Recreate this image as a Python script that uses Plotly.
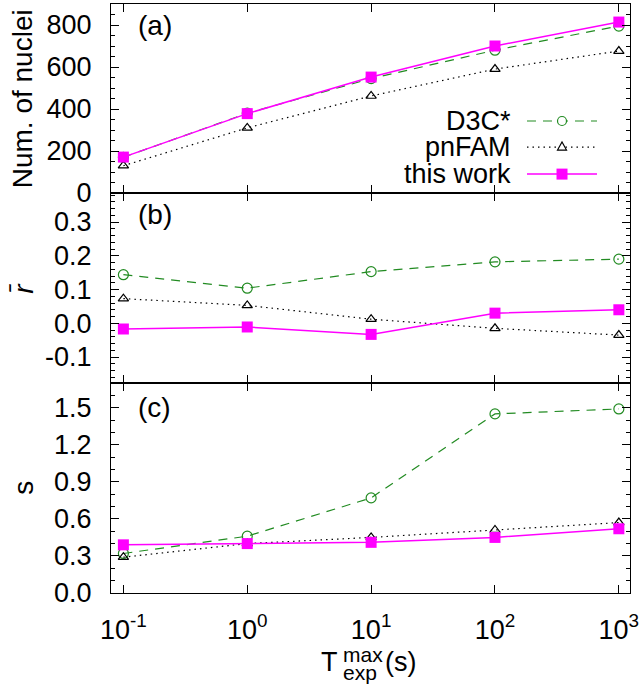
import plotly.graph_objects as go
from plotly.subplots import make_subplots

# ---- data ----
T_exp = [0.1, 1, 10, 100, 1000]
x_tickvals = [0.1, 1, 10, 100, 1000]
x_ticktext = ["10<sup>-1</sup>", "10<sup>0</sup>", "10<sup>1</sup>", "10<sup>2</sup>", "10<sup>3</sup>"]

series_names = ["D3C*", "pnFAM", "this work"]

num_d3c = [170, 380, 545, 680, 795]
num_pnfam = [130, 310, 462, 590, 676]
num_this = [171, 378, 552, 700, 814]

r_d3c = [0.144, 0.104, 0.153, 0.182, 0.190]
r_pnfam = [0.073, 0.053, 0.012, -0.015, -0.035]
r_this = [-0.017, -0.011, -0.033, 0.030, 0.040]

s_d3c = [0.32, 0.46, 0.77, 1.45, 1.49]
s_pnfam = [0.29, 0.40, 0.45, 0.51, 0.57]
s_this = [0.39, 0.40, 0.41, 0.45, 0.52]

ya_ticks = [0, 200, 400, 600, 800]
ya_text = ["0", "200", "400", "600", "800"]
yb_ticks = [-0.1, 0.0, 0.1, 0.2, 0.3]
yb_text = ["-0.1", "0.0", "0.1", "0.2", "0.3"]
yc_ticks = [0.0, 0.3, 0.6, 0.9, 1.2, 1.5]
yc_text = ["0.0", "0.3", "0.6", "0.9", "1.2", "1.5"]

# ---- styles ----
FONT = "Liberation Sans, Arial, sans-serif"
GREEN = "#228b22"
BLACK = "#000000"
MAG = "#ff00ff"
styles = {
    "D3C*": dict(line=dict(color=GREEN, width=1.2, dash="9px,7px"),
                 marker=dict(symbol="circle-open", size=10, color=GREEN, line=dict(width=1.2))),
    "pnFAM": dict(line=dict(color=BLACK, width=1.2, dash="1.5px,4px"),
                  marker=dict(symbol="triangle-up-open", size=9, color=BLACK, line=dict(width=1.2))),
    "this work": dict(line=dict(color=MAG, width=1.5),
                      marker=dict(symbol="square", size=11, color=MAG)),
}

fig = make_subplots(rows=3, cols=1, shared_xaxes=True, vertical_spacing=0,
                    row_heights=[189, 190, 210])

panels = [
    (1, [num_d3c, num_pnfam, num_this]),
    (2, [r_d3c, r_pnfam, r_this]),
    (3, [s_d3c, s_pnfam, s_this]),
]
for row, vals in panels:
    for name, v in zip(series_names, vals):
        st = styles[name]
        fig.add_trace(go.Scatter(x=T_exp, y=v, mode="lines+markers", name=name,
                                 line=st["line"], marker=st["marker"],
                                 showlegend=False, cliponaxis=False), row=row, col=1)

axis_common = dict(showline=True, linecolor="black", linewidth=1.3, mirror="allticks",
                   ticks="inside", ticklen=8, tickwidth=1.2, tickcolor="black",
                   showgrid=False, zeroline=False, automargin=False,
                   tickfont=dict(family=FONT, size=27, color="black"))

for row in (1, 2, 3):
    fig.update_xaxes(type="log", range=[-1.1, 3.09], tickmode="array",
                     tickvals=x_tickvals, ticktext=x_ticktext, ticklabelstandoff=12,
                     showticklabels=(row == 3), row=row, col=1, **axis_common)

minor_common = dict(ticks="inside", ticklen=4, tickwidth=1.2, tickcolor="black")
fig.update_yaxes(range=[0, 900], tickmode="array", tickvals=ya_ticks, ticktext=ya_text,
                 minor=dict(dtick=50, tick0=0, **minor_common), ticklabelstandoff=13,
                 row=1, col=1, **axis_common)
fig.update_yaxes(range=[-0.177, 0.386], tickmode="array", tickvals=yb_ticks, ticktext=yb_text,
                 minor=dict(dtick=0.02, tick0=0, **minor_common), ticklabelstandoff=13,
                 row=2, col=1, **axis_common)
fig.update_yaxes(range=[0, 1.7], tickmode="array", tickvals=yc_ticks, ticktext=yc_text,
                 minor=dict(dtick=0.1, tick0=0, **minor_common), ticklabelstandoff=13,
                 row=3, col=1, **axis_common)

fig.update_layout(width=640, height=689,
                  margin=dict(l=111, r=10, t=4, b=96, autoexpand=False),
                  plot_bgcolor="white", paper_bgcolor="white",
                  font=dict(family=FONT, size=27, color="black"), showlegend=False)

# panel labels
for lab, yd in (("(a)", "y domain"), ("(b)", "y2 domain"), ("(c)", "y3 domain")):
    fig.add_annotation(text=lab, xref="x domain", yref=yd, x=0.048, y=0.885,
                       xanchor="left", yanchor="middle", showarrow=False,
                       font=dict(family=FONT, size=28, color="black"))

# y-axis titles
ytitles = [("Num. of nuclei", "y domain", 28), ("<i>r̄</i>", "y2 domain", 28), ("s", "y3 domain", 28)]
for txt, yd, fs in ytitles:
    fig.add_annotation(text=txt, xref="paper", yref=yd, x=-0.17, y=0.5,
                       xanchor="center", yanchor="middle", textangle=-90, showarrow=False,
                       font=dict(family=FONT, size=fs, color="black"))

# x-axis title: T with stacked super/subscript
fig.add_annotation(text="T", xref="paper", yref="paper", x=0.4413, y=-0.1171,
                   xanchor="right", yanchor="middle", showarrow=False,
                   font=dict(family=FONT, size=27))
fig.add_annotation(text="max", xref="paper", yref="paper", x=0.4432, y=-0.1036,
                   xanchor="left", yanchor="middle", showarrow=False,
                   font=dict(family=FONT, size=21))
fig.add_annotation(text="exp", xref="paper", yref="paper", x=0.4432, y=-0.135,
                   xanchor="left", yanchor="middle", showarrow=False,
                   font=dict(family=FONT, size=21))
fig.add_annotation(text="(s)", xref="paper", yref="paper", x=0.524, y=-0.1171,
                   xanchor="left", yanchor="middle", showarrow=False,
                   font=dict(family=FONT, size=27))

# legend (text left of sample, right-aligned, as in the original)
leg_y = [0.381, 0.243, 0.100]
for name, ly in zip(series_names, leg_y):
    st = styles[name]
    fig.add_annotation(text=name, xref="paper", yref="y domain", x=0.7746, y=ly,
                       xanchor="right", yanchor="middle", showarrow=False,
                       font=dict(family=FONT, size=27))
    dash = st["line"].get("dash", "solid")
    fig.add_shape(type="line", xref="paper", yref="y domain", x0=0.8015, x1=0.9364,
                  y0=ly, y1=ly, line=dict(color=st["line"]["color"], width=st["line"]["width"], dash=dash))
    if name == "D3C*":
        fig.add_shape(type="circle", xref="paper", yref="y domain", xsizemode="pixel",
                      ysizemode="pixel", xanchor=0.869, yanchor=ly, x0=-4.5, x1=4.5,
                      y0=-4.5, y1=4.5, fillcolor="white", line=dict(color=GREEN, width=1.2))
    elif name == "pnFAM":
        fig.add_shape(type="path", xref="paper", yref="y domain", xsizemode="pixel",
                      ysizemode="pixel", xanchor=0.869, yanchor=ly,
                      path="M -4.5 -3 L 4.5 -3 L 0 5 Z", fillcolor="white",
                      line=dict(color=BLACK, width=1.2))
    else:
        fig.add_shape(type="rect", xref="paper", yref="y domain", xsizemode="pixel",
                      ysizemode="pixel", xanchor=0.869, yanchor=ly, x0=-5.5, x1=5.5,
                      y0=-5.5, y1=5.5, fillcolor=MAG, line=dict(color=MAG, width=0))

fig.write_html("out.html", config={"displayModeBar": False},
               post_script="document.body.style.margin='0px';")
